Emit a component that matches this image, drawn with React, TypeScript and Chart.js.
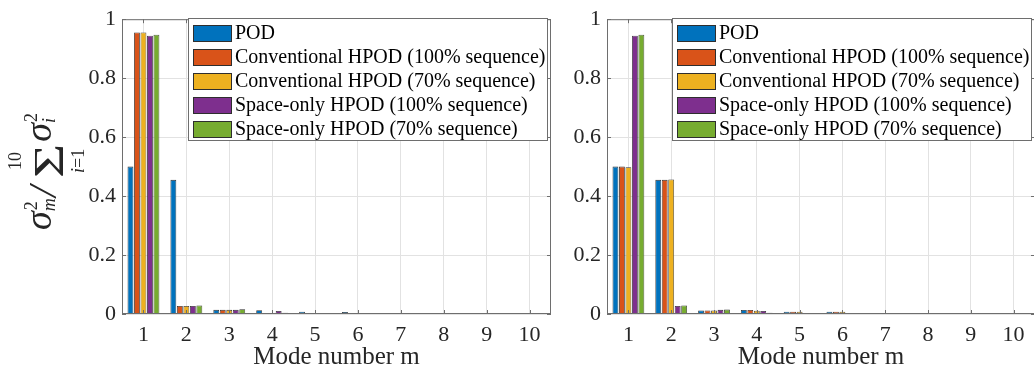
import React, { useEffect, useRef } from 'react';
import { Chart, registerables } from 'chart.js';

Chart.register(...registerables);

// Mode numbers on the x axis
const modes = ['1', '2', '3', '4', '5', '6', '7', '8', '9', '10'];

const seriesNames = [
  'POD',
  'Conventional HPOD (100% sequence)',
  'Conventional HPOD (70% sequence)',
  'Space-only HPOD (100% sequence)',
  'Space-only HPOD (70% sequence)',
];
const seriesColors = ['#0072BD', '#D95319', '#EDB120', '#7E2F8E', '#77AC30'];

// Left panel: normalised singular values per mode
const podLeft = [0.5, 0.455, 0.014, 0.013, 0.008, 0.007, 0.0003, 0.0003, 0.0003, 0.0003];
const conv100Left = [0.955, 0.027, 0.014, 0.0008, 0.0005, 0.0003, 0.0003, 0.0008, 0.0008, 0.0008];
const conv70Left = [0.955, 0.027, 0.014, 0.0008, 0.0005, 0.0003, 0.0003, 0.0003, 0.0003, 0.0003];
const space100Left = [0.944, 0.027, 0.014, 0.01, 0.001, 0.0003, 0.0003, 0.0003, 0.0003, 0.0003];
const space70Left = [0.947, 0.029, 0.016, 0.0045, 0.001, 0.0003, 0.0003, 0.0003, 0.0003, 0.0008];

// Right panel
const podRight = [0.5, 0.455, 0.012, 0.0135, 0.008, 0.008, 0.0003, 0.0003, 0.0003, 0.0003];
const conv100Right = [0.5, 0.455, 0.012, 0.0135, 0.008, 0.008, 0.0003, 0.0003, 0.0003, 0.0003];
const conv70Right = [0.498, 0.456, 0.012, 0.011, 0.008, 0.008, 0.0003, 0.0003, 0.0003, 0.0003];
const space100Right = [0.944, 0.027, 0.014, 0.01, 0.001, 0.0003, 0.0003, 0.0003, 0.0003, 0.0003];
const space70Right = [0.947, 0.029, 0.015, 0.0045, 0.001, 0.0003, 0.0003, 0.0003, 0.0003, 0.0008];

const yTicks = [0, 0.2, 0.4, 0.6, 0.8, 1];

const SERIF = '"Liberation Serif", "Times New Roman", serif';
const AXIS_COLOR = '#6e6e6e';
const TEXT_COLOR = '#262626';
const GRID_COLOR = '#e2e2e2';
const EDGE_COLOR = '#2e2e2e';

// Full box around the plot area with inward tick marks
const boxPlugin = {
  id: 'axesBox',
  afterDatasetsDraw(chart: any) {
    const { ctx, chartArea: a, scales } = chart;
    ctx.save();
    ctx.strokeStyle = AXIS_COLOR;
    ctx.lineWidth = 1;
    ctx.strokeRect(a.left + 0.5, a.top + 0.5, a.right - a.left - 1, a.bottom - a.top - 1);
    ctx.beginPath();
    modes.forEach((_, i) => {
      const x = Math.round(scales.x.getPixelForValue(i)) + 0.5;
      ctx.moveTo(x, a.bottom);
      ctx.lineTo(x, a.bottom - 4);
      ctx.moveTo(x, a.top);
      ctx.lineTo(x, a.top + 4);
    });
    yTicks.forEach((v) => {
      const y = Math.round(scales.y.getPixelForValue(v)) + 0.5;
      ctx.moveTo(a.left, y);
      ctx.lineTo(a.left + 4, y);
      ctx.moveTo(a.right, y);
      ctx.lineTo(a.right - 4, y);
    });
    ctx.stroke();
    ctx.restore();
  },
};

// Boxed legend in the upper right corner of the plot area
const legendPlugin = {
  id: 'boxLegend',
  afterDraw(chart: any) {
    const { ctx, chartArea: a } = chart;
    ctx.save();
    ctx.font = `20px ${SERIF}`;
    const textW = Math.max(...seriesNames.map((n) => ctx.measureText(n).width));
    const w = Math.round(5 + 39 + 3 + textW + 2);
    const h = 122;
    const x = Math.round(a.right - 4 - w);
    const y = Math.round(a.top - 1);
    ctx.fillStyle = '#ffffff';
    ctx.fillRect(x, y, w, h);
    ctx.strokeStyle = AXIS_COLOR;
    ctx.lineWidth = 1;
    ctx.strokeRect(x + 0.5, y + 0.5, w, h);
    ctx.textBaseline = 'middle';
    ctx.textAlign = 'left';
    seriesNames.forEach((name, k) => {
      const cy = y + 15 + k * 24;
      ctx.fillStyle = seriesColors[k];
      ctx.fillRect(x + 5, cy - 8, 39, 17);
      ctx.strokeStyle = EDGE_COLOR;
      ctx.strokeRect(x + 5.5, cy - 7.5, 38, 16);
      ctx.fillStyle = '#000000';
      ctx.fillText(name, x + 5 + 39 + 3, cy + 1);
    });
    ctx.restore();
  },
};

// Rotated y-axis title: sigma_m^2 / sum_{i=1}^{10} sigma_i^2
const yTitlePlugin = {
  id: 'yTitle',
  afterDraw(chart: any) {
    const { ctx } = chart;
    ctx.save();
    ctx.translate(51, 230);
    ctx.rotate(-Math.PI / 2);
    ctx.fillStyle = TEXT_COLOR;
    ctx.textBaseline = 'alphabetic';
    ctx.textAlign = 'left';
    const big = `italic 38px ${SERIF}`;
    const small = `18px ${SERIF}`;
    const smallIt = `italic 18px ${SERIF}`;

    // sigma_m^2
    ctx.font = big;
    const sigW = ctx.measureText('σ').width;
    ctx.fillText('σ', 0, 0);
    ctx.font = small;
    ctx.fillText('2', sigW + 1, -14);
    ctx.font = smallIt;
    ctx.fillText('m', sigW, 4);

    // slash
    ctx.font = `italic 40px ${SERIF}`;
    ctx.fillText('/', 33, 5);

    // summation sign with limits
    ctx.font = `42px ${SERIF}`;
    const sumW = ctx.measureText('Σ').width * 1.4;
    const sumU = 52;
    ctx.save();
    ctx.translate(sumU, 12);
    ctx.scale(1.4, 1);
    ctx.fillText('Σ', 0, 0);
    ctx.restore();
    const sc = sumU + sumW / 2;
    ctx.font = small;
    ctx.textAlign = 'center';
    ctx.fillText('10', sc, -30);
    ctx.textAlign = 'left';
    ctx.font = smallIt;
    const iw = ctx.measureText('i').width;
    ctx.font = small;
    const rw = ctx.measureText('=1').width;
    const st = sc - (iw + rw) / 2;
    ctx.font = smallIt;
    ctx.fillText('i', st, 33);
    ctx.font = small;
    ctx.fillText('=1', st + iw, 33);

    // sigma_i^2
    const u2 = sumU + sumW + 2;
    ctx.font = big;
    ctx.fillText('σ', u2, 0);
    ctx.font = small;
    ctx.fillText('2', u2 + sigW + 1, -14);
    ctx.font = smallIt;
    ctx.fillText('i', u2 + sigW, 4);
    ctx.restore();
  },
};

type PanelProps = {
  series: number[][];
  left: number;
  width: number;
  yWidth: number;
  padRight: number;
  showYTitle: boolean;
};

function Panel({ series, left, width, yWidth, padRight, showYTitle }: PanelProps) {
  const ref = useRef<HTMLCanvasElement>(null);

  useEffect(() => {
    if (!ref.current) return;
    const tickFont = { family: SERIF, size: 22 };
    const chart = new Chart(ref.current, {
      type: 'bar',
      data: {
        labels: modes,
        datasets: series.map((vals, k) => ({
          label: seriesNames[k],
          data: vals,
          backgroundColor: seriesColors[k],
          borderColor: EDGE_COLOR,
          borderWidth: 0.8,
          categoryPercentage: 0.757,
          barPercentage: 0.9,
        })),
      },
      options: {
        animation: false,
        responsive: false,
        maintainAspectRatio: false,
        layout: { padding: { left: 0, right: padRight, top: 17, bottom: 0 } },
        plugins: { legend: { display: false }, tooltip: { enabled: false } },
        scales: {
          x: {
            grid: { offset: false, color: GRID_COLOR, drawTicks: false },
            border: { display: false },
            ticks: { font: tickFont, color: TEXT_COLOR, padding: 8, maxRotation: 0, autoSkip: false },
            title: {
              display: true,
              text: 'Mode number m',
              font: { family: SERIF, size: 25 },
              color: TEXT_COLOR,
              padding: { top: 0, bottom: 0 },
            },
            afterFit: (s: any) => {
              s.height = 58;
            },
          },
          y: {
            min: 0,
            max: 1,
            grid: { color: GRID_COLOR, drawTicks: false },
            border: { display: false },
            ticks: {
              stepSize: 0.2,
              font: tickFont,
              color: TEXT_COLOR,
              padding: 6,
              callback: (v: any) => {
                const n = Math.round(Number(v) * 10) / 10;
                return n === 0 ? '0' : n === 1 ? '1' : n.toFixed(1);
              },
            },
            afterFit: (s: any) => {
              s.width = yWidth;
            },
          },
        },
      },
      plugins: showYTitle ? [boxPlugin, legendPlugin, yTitlePlugin] : [boxPlugin, legendPlugin],
    } as any);
    return () => chart.destroy();
  }, []);

  return (
    <canvas
      ref={ref}
      width={width}
      height={372}
      style={{ position: 'absolute', left, top: 0, width, height: 372 }}
    />
  );
}

export default function App() {
  return (
    <div
      style={{
        position: 'fixed',
        left: 0,
        top: 0,
        width: 1034,
        height: 372,
        background: '#ffffff',
        overflow: 'hidden',
      }}
    >
      <Panel
        series={[podLeft, conv100Left, conv70Left, space100Left, space70Left]}
        left={0}
        width={560}
        yWidth={122}
        padRight={9}
        showYTitle={true}
      />
      <Panel
        series={[podRight, conv100Right, conv70Right, space100Right, space70Right]}
        left={561}
        width={474}
        yWidth={46}
        padRight={0}
        showYTitle={false}
      />
    </div>
  );
}
